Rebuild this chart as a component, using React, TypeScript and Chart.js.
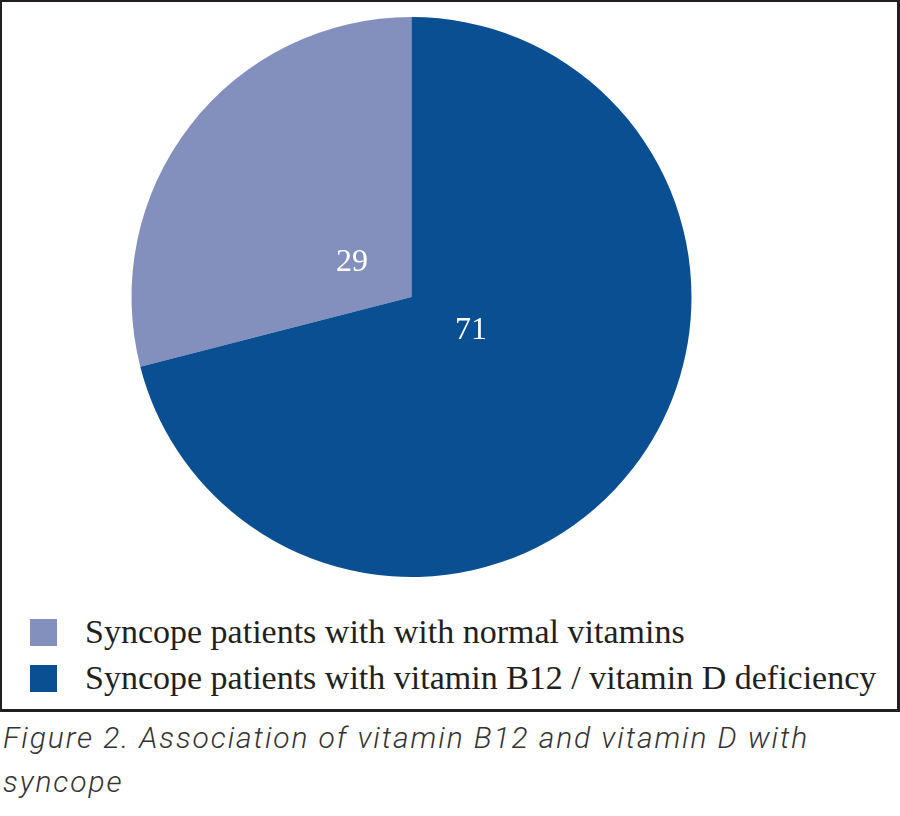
import React, { useEffect, useRef } from "react";
import { Chart, registerables } from "chart.js";

Chart.register(...registerables);

const categories = [
  "Syncope patients with with normal vitamins",
  "Syncope patients with vitamin B12 / vitamin D deficiency",
];
const values = [29, 71];
const colors = ["#8390bd", "#0b4f93"];
const captionText = "Figure 2. Association of vitamin B12 and vitamin D with syncope";

const labelPlugin = {
  id: "sliceLabels",
  afterDatasetsDraw(chart: any) {
    const ctx = chart.ctx;
    const meta = chart.getDatasetMeta(0);
    ctx.save();
    ctx.fillStyle = "#ffffff";
    ctx.font = '32px "Liberation Serif", "Times New Roman", serif';
    ctx.textAlign = "center";
    ctx.textBaseline = "middle";
    meta.data.forEach((arc: any, i: number) => {
      const { x, y, startAngle, endAngle, outerRadius } = arc.getProps(
        ["x", "y", "startAngle", "endAngle", "outerRadius"],
        true
      );
      const mid = (startAngle + endAngle) / 2 - 0.14;
      const r = outerRadius * 0.245;
      ctx.fillText(String(chart.data.datasets[0].data[i]), x + Math.cos(mid) * r, y + Math.sin(mid) * r);
    });
    ctx.restore();
  },
};

export default function App() {
  const ref = useRef<HTMLCanvasElement | null>(null);

  useEffect(() => {
    document.body.style.margin = "0";
    if (!ref.current) return;
    const total = values.reduce((a, b) => a + b, 0);
    const chart = new Chart(ref.current, {
      type: "pie",
      data: {
        labels: categories,
        datasets: [
          {
            data: values,
            backgroundColor: colors,
            borderWidth: 0,
            hoverOffset: 0,
          },
        ],
      },
      options: {
        animation: false,
        responsive: false,
        rotation: (360 * values[1]) / total,
        layout: { padding: { top: 15, bottom: 32, left: 0, right: 76 } },
        plugins: {
          legend: { display: false },
          tooltip: { enabled: false },
        },
      },
      plugins: [labelPlugin],
    });
    return () => chart.destroy();
  }, []);

  return (
    <div style={{ width: 900 }}>
      <div
        style={{
          boxSizing: "border-box",
          width: 900,
          height: 712,
          border: "3px solid #231f20",
          borderTopWidth: 2,
          borderLeftWidth: 2,
          background: "#fff",
          position: "relative",
        }}
      >
        <canvas ref={ref} width={895} height={607} style={{ display: "block", width: 895, height: 607 }} />
        <div style={{ paddingLeft: 28 }}>
          {categories.map((c, i) => (
            <div
              key={c}
              style={{
                display: "flex",
                alignItems: "center",
                height: 46,
                fontFamily: '"Liberation Serif", "Times New Roman", serif',
                fontSize: 34,
                lineHeight: "46px",
                color: "#231f20",
                whiteSpace: "nowrap",
              }}
            >
              <span
                style={{
                  display: "inline-block",
                  width: 27,
                  height: 27,
                  background: colors[i],
                  marginRight: 28,
                  flex: "0 0 auto",
                }}
              />
              <span>{c}</span>
            </div>
          ))}
        </div>
      </div>
      <div
        style={{
          marginTop: 4,
          paddingLeft: 3,
          width: 850,
          fontFamily: "Roboto, 'Open Sans', sans-serif",
          fontStyle: "italic",
          fontWeight: 300,
          fontSize: 30,
          lineHeight: "44px",
          color: "#333333",
          letterSpacing: 1.9,
        }}
      >
        {captionText}
      </div>
    </div>
  );
}
